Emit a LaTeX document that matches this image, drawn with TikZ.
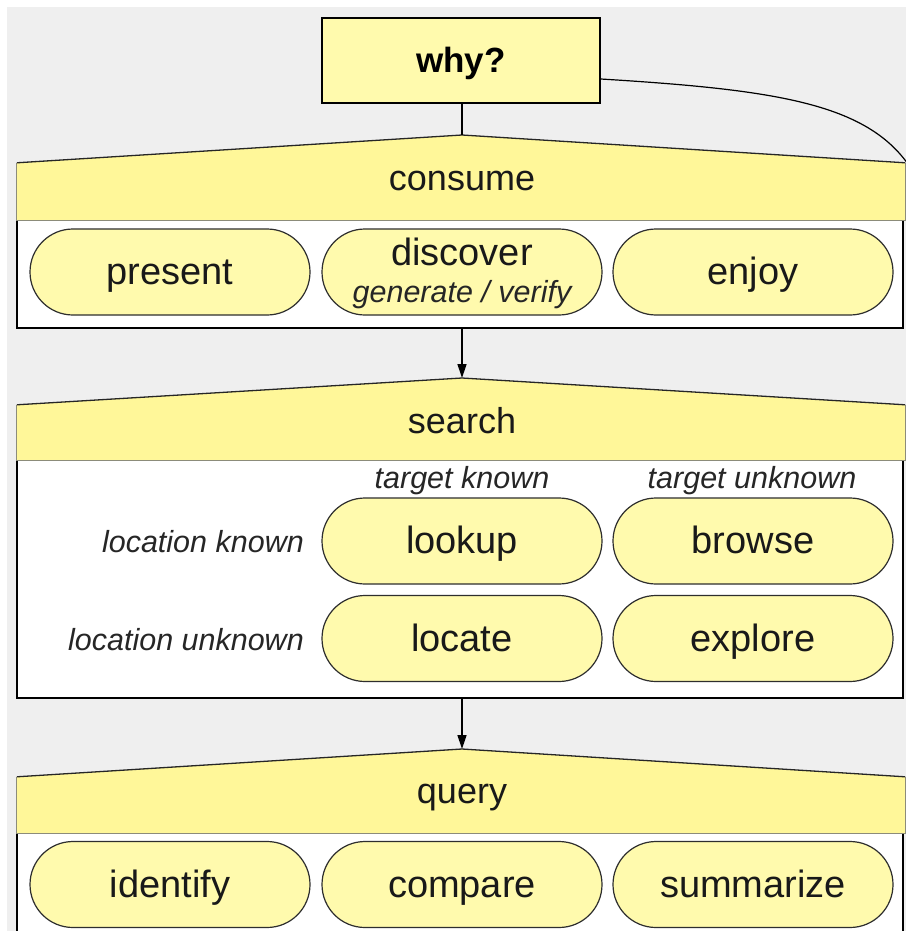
\documentclass[tikz,border=0pt]{standalone}
\usepackage{fontspec}
\setmainfont{Liberation Sans}
\usetikzlibrary{shapes.misc,arrows.meta}
\definecolor{pagegrey}{HTML}{EFEFEF}
\definecolor{headyellow}{HTML}{FFF799}
\definecolor{pillyellow}{HTML}{FFFAAD}
\definecolor{pilledge}{HTML}{2E2E2E}
\definecolor{headedge}{HTML}{8C8C7A}

\tikzset{
  pill/.style={rounded rectangle, draw=pilledge, line width=1.2pt, fill=pillyellow,
    minimum width=280pt, minimum height=86pt, inner sep=0pt,
    font=\fontsize{38}{40}\selectfont, text=black!90, text height=25pt, text depth=0pt},
  panel/.style={rectangle, draw=black, line width=1.6pt, fill=white, inner sep=0pt},
  headbar/.style={rectangle, inner sep=0pt, minimum width=888pt},
  headside/.style={draw=headedge, line width=0.9pt},
  roof/.style={draw=black!85, line width=1.3pt, line join=miter},
  headtext/.style={font=\fontsize{36}{38}\selectfont, text=black!90, inner sep=0pt,
    text height=25pt, text depth=0pt},
  hint/.style={font=\itshape\fontsize{30.5}{32}\selectfont, text=black!85, inner sep=0pt,
    text height=20pt, text depth=0pt},
  conn/.style={draw=black, line width=1.4pt},
  tip/.style={-{Triangle[length=14pt,width=9pt]}}
}

\begin{document}
\begin{tikzpicture}[x=1pt,y=-1pt]
  % page and grey backdrop
  \useasboundingbox (0,0) rectangle (905,931);
  \fill[white] (0,0) rectangle (905,931);
  \fill[pagegrey] (7,7) rectangle (910,940);

  % root box
  \node[rectangle, draw=black, line width=1.6pt, fill=pillyellow,
        minimum width=278pt, minimum height=85pt, inner sep=0pt,
        text height=25pt, text depth=0pt,
        font=\bfseries\fontsize{35}{38}\selectfont] (why) at (461,60.5) {why?};

  % ---------- consume ----------
  \node[panel, minimum width=886pt, minimum height=108pt] (consumePanel) at (460,274) {};
  \node[headbar, minimum height=57pt] (consumeHead) at (461,191.5) {};
  \coordinate (consumeTop) at (462,135);
  \fill[headyellow] (consumeHead.south west) -- (consumeHead.north west) -- (consumeTop)
        -- (consumeHead.north east) -- (consumeHead.south east) -- cycle;
  \draw[headside] (consumeHead.north west) -- (consumeHead.south west)
        -- (consumeHead.south east) -- (consumeHead.north east);
  \draw[roof] (consumeHead.north west) -- (consumeTop) -- (consumeHead.north east);
  \node[headtext] (consumeLabel) at (462,177.5) {consume};

  \node[pill] (present) at (170,272) {present};
  \node[pill] (discover) at (462,272) {};
  \node[headtext, font=\fontsize{38}{40}\selectfont] (discoverLabel) at (462,252.5) {discover};
  \node[hint] (discoverSub) at (462,292) {generate / verify};
  \node[pill] (enjoy) at (753,272) {enjoy};

  % ---------- search ----------
  \node[panel, minimum width=886pt, minimum height=238pt] (searchPanel) at (460,579) {};
  \node[headbar, minimum height=55pt] (searchHead) at (461,432.5) {};
  \coordinate (searchTop) at (462,378);
  \fill[headyellow] (searchHead.south west) -- (searchHead.north west) -- (searchTop)
        -- (searchHead.north east) -- (searchHead.south east) -- cycle;
  \draw[headside] (searchHead.north west) -- (searchHead.south west)
        -- (searchHead.south east) -- (searchHead.north east);
  \draw[roof] (searchHead.north west) -- (searchTop) -- (searchHead.north east);
  \node[headtext] (searchLabel) at (462,420.5) {search};

  \node[hint] (targetKnown) at (462,478) {target known};
  \node[hint] (targetUnknown) at (752,478) {target unknown};
  \node[hint, anchor=east] (locKnown) at (304,542) {location known};
  \node[hint, anchor=east] (locUnknown) at (304,640) {location unknown};

  \node[pill] (lookup) at (462,541) {lookup};
  \node[pill] (browse) at (753,541) {browse};
  \node[pill] (locate) at (462,638.5) {locate};
  \node[pill] (explore) at (753,638.5) {explore};

  % ---------- query ----------
  \node[panel, minimum width=886pt, minimum height=140pt] (queryPanel) at (460,903) {};
  \node[headbar, minimum height=56pt] (queryHead) at (461,805) {};
  \coordinate (queryTop) at (462,749);
  \fill[headyellow] (queryHead.south west) -- (queryHead.north west) -- (queryTop)
        -- (queryHead.north east) -- (queryHead.south east) -- cycle;
  \draw[headside] (queryHead.north west) -- (queryHead.south west)
        -- (queryHead.south east) -- (queryHead.north east);
  \draw[roof] (queryHead.north west) -- (queryTop) -- (queryHead.north east);
  \node[headtext] (queryLabel) at (462,790.5) {query};

  \node[pill] (identify) at (170,884.5) {identify};
  \node[pill] (compare) at (462,884.5) {compare};
  \node[pill] (summarize) at (753,884.5) {summarize};

  % ---------- connectors ----------
  \draw[conn] (why.south -| consumeTop) -- (consumeTop);
  \draw[conn, tip] (searchTop |- consumePanel.south) -- (searchTop);
  \draw[conn, tip] (queryTop |- searchPanel.south) -- (queryTop);
  \coordinate (curveEnd) at (912,170);
  \draw[conn, line width=1.2pt] ([yshift=-18.5pt]why.east) .. controls (780,90) and (870,104) .. (curveEnd);
\end{tikzpicture}
\end{document}
